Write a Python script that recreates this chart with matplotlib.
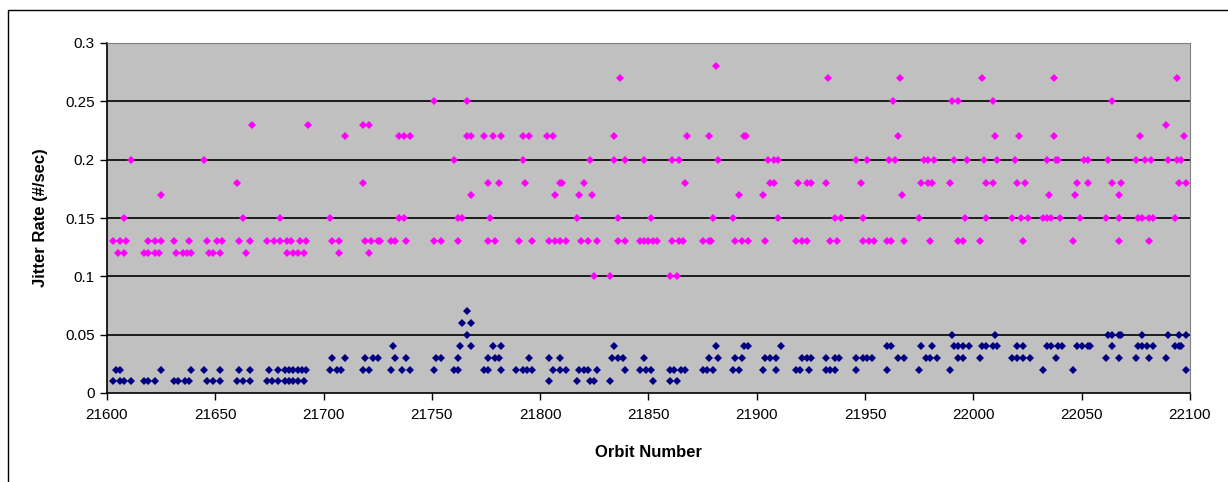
import matplotlib
matplotlib.use("Agg")
import matplotlib.pyplot as plt
from matplotlib.lines import Line2D
from matplotlib.ticker import FuncFormatter

plt.rcParams['font.family'] = ['Liberation Sans', 'DejaVu Sans']

# upper series (magenta): rate level -> orbits at that level
pink_levels = [0.28, 0.27, 0.25, 0.23, 0.22, 0.20, 0.18, 0.17, 0.15, 0.13, 0.12, 0.10]
pink_orbits = [
    [21881],
    [21837, 21933, 21966, 22004, 22037, 22094],
    [21751, 21766, 21963, 21990, 21993, 22009, 22064],
    [21667, 21693, 21718, 21721, 22089],
    [21710, 21735, 21737, 21740, 21766, 21768, 21774, 21778, 21782, 21792, 21795, 21803,
     21806, 21834, 21868, 21878, 21894, 21895, 21965, 22010, 22021, 22037, 22077, 22097],
    [21611, 21645, 21760, 21792, 21823, 21834, 21839, 21848, 21861, 21864, 21882, 21905,
     21908, 21910, 21946, 21951, 21961, 21964, 21977, 21979, 21982, 21991, 21997, 22005,
     22011, 22019, 22034, 22038, 22039, 22051, 22053, 22062, 22075, 22079, 22082, 22090,
     22094, 22096],
    [21660, 21718, 21776, 21781, 21793, 21809, 21810, 21820, 21867, 21906, 21908, 21919,
     21923, 21925, 21932, 21948, 21976, 21979, 21981, 21989, 22006, 22009, 22020, 22024,
     22048, 22053, 22064, 22068, 22095, 22098],
    [21625, 21768, 21807, 21818, 21824, 21892, 21903, 21967, 22035, 22047, 22067],
    [21608, 21663, 21680, 21703, 21735, 21737, 21762, 21764, 21777, 21817, 21836, 21851,
     21880, 21889, 21910, 21936, 21939, 21949, 21975, 21996, 22006, 22018, 22022, 22025,
     22032, 22034, 22036, 22040, 22049, 22061, 22067, 22076, 22078, 22081, 22083, 22093],
    [21603, 21606, 21609, 21619, 21622, 21625, 21631, 21638, 21646, 21651, 21653, 21661,
     21666, 21674, 21677, 21680, 21683, 21685, 21689, 21692, 21704, 21707, 21719, 21722,
     21725, 21726, 21731, 21733, 21738, 21751, 21754, 21762, 21776, 21779, 21790, 21796,
     21804, 21807, 21809, 21812, 21819, 21822, 21826, 21836, 21839, 21846, 21848, 21850,
     21852, 21854, 21861, 21864, 21866, 21875, 21878, 21879, 21890, 21893, 21896, 21904,
     21918, 21921, 21923, 21934, 21937, 21949, 21952, 21954, 21960, 21962, 21968, 21980,
     21993, 21995, 22003, 22023, 22046, 22067, 22081],
    [21605, 21608, 21617, 21619, 21622, 21624, 21632, 21635, 21637, 21639, 21647, 21649,
     21652, 21664, 21683, 21686, 21688, 21691, 21707, 21721],
    [21825, 21832, 21860, 21863],
]

# lower series (navy)
navy_levels = [0.07, 0.06, 0.05, 0.04, 0.03, 0.02, 0.01]
navy_orbits = [
    [21766],
    [21764, 21768],
    [21766, 21990, 22010, 22062, 22064, 22067, 22068, 22078, 22090, 22095, 22098],
    [21732, 21763, 21768, 21778, 21782, 21834, 21881, 21894, 21896, 21911, 21960, 21962,
     21976, 21981, 21991, 21993, 21995, 21998, 22004, 22006, 22009, 22011, 22020, 22023,
     22034, 22036, 22039, 22041, 22048, 22050, 22053, 22054, 22064, 22076, 22078, 22080,
     22083, 22093, 22095, 22096],
    [21704, 21710, 21719, 21723, 21725, 21733, 21738, 21752, 21754, 21762, 21776, 21779,
     21781, 21795, 21804, 21809, 21833, 21836, 21838, 21848, 21878, 21882, 21890, 21893,
     21904, 21906, 21909, 21921, 21923, 21925, 21932, 21936, 21938, 21946, 21949, 21951,
     21953, 21965, 21968, 21978, 21980, 21983, 21993, 21995, 22003, 22018, 22020, 22023,
     22026, 22038, 22061, 22067, 22075, 22081, 22089],
    [21604, 21606, 21625, 21639, 21645, 21652, 21661, 21666, 21675, 21679, 21682, 21684,
     21686, 21688, 21690, 21692, 21703, 21706, 21708, 21718, 21721, 21731, 21736, 21740,
     21751, 21760, 21762, 21774, 21776, 21782, 21789, 21792, 21794, 21796, 21806, 21809,
     21812, 21818, 21820, 21822, 21826, 21839, 21846, 21849, 21851, 21860, 21862, 21865,
     21867, 21875, 21877, 21880, 21889, 21892, 21903, 21909, 21918, 21920, 21924, 21932,
     21934, 21936, 21946, 21960, 21975, 21989, 22032, 22046, 22098],
    [21603, 21606, 21608, 21611, 21617, 21619, 21622, 21631, 21633, 21636, 21638, 21646,
     21649, 21652, 21660, 21663, 21666, 21674, 21676, 21679, 21682, 21684, 21686, 21688,
     21691, 21804, 21817, 21823, 21825, 21832, 21852, 21860, 21863],
]

y_ticks = [0, 0.05, 0.1, 0.15, 0.2, 0.25, 0.3]
x_ticks = list(range(21600, 22101, 50))


def flatten(levels, orbits):
    xs, ys = [], []
    for lev, obs in zip(levels, orbits):
        xs += obs
        ys += [lev] * len(obs)
    return xs, ys


W, H = 1228, 482
fig = plt.figure(figsize=(W / 100, H / 100), dpi=100)
fig.patch.set_facecolor('white')

# chart area frame: only left and top edges fall inside the picture
fig.lines.append(Line2D([7.5 / W, 7.5 / W, 1.0], [0.0, 1 - 9.5 / H, 1 - 9.5 / H],
                        transform=fig.transFigure, color='black', linewidth=1))

ax = fig.add_axes([107 / W, (H - 393) / H, (1190 - 107) / W, 350 / H])
ax.set_facecolor('#C0C0C0')

for y in y_ticks[1:-1]:
    ax.axhline(y, color='black', linewidth=1.2, zorder=1)

px, py = flatten(pink_levels, pink_orbits)
nx, ny = flatten(navy_levels, navy_orbits)
ax.plot(px, py, linestyle='none', marker='D', markersize=4, color='#FF00FF',
        markeredgewidth=0, zorder=3)
ax.plot(nx, ny, linestyle='none', marker='D', markersize=4, color='#000080',
        markeredgewidth=0, zorder=3)

ax.set_xlim(21600, 22100)
ax.set_ylim(0, 0.3)
ax.set_xticks(x_ticks)
ax.set_yticks(y_ticks)
ax.yaxis.set_major_formatter(FuncFormatter(lambda v, p: f'{v:g}'))
ax.tick_params(direction='out', length=5, width=1, colors='black', labelsize=11)
ax.tick_params(axis='y', pad=4)
ax.tick_params(axis='x', pad=6)

for s in ['top', 'right']:
    ax.spines[s].set_color('#808080')
for s in ['left', 'bottom']:
    ax.spines[s].set_color('black')
    ax.spines[s].set_linewidth(1.2)

ax.set_xlabel('Orbit Number', fontsize=12, fontweight='bold')
ax.set_ylabel('Jitter Rate (#/sec)', fontsize=12, fontweight='bold')
ax.xaxis.set_label_coords(0.5, -0.148)
ax.yaxis.set_label_coords(-0.0545, 0.5)

fig.savefig('out.png', dpi=100)
